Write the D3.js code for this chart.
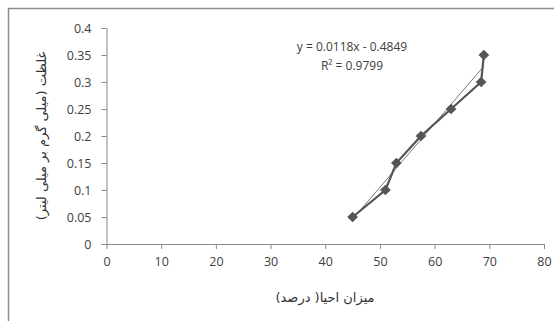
<!DOCTYPE html>
<html><head><meta charset="utf-8">
<script src="https://cdn.jsdelivr.net/npm/d3@7"></script>
<style>body{margin:0;background:#fff;}svg{display:block;}</style>
</head><body>
<script>
const xValues = [45, 51, 53, 57.5, 63, 68.5, 69];
const yValues = [0.05, 0.1, 0.15, 0.2, 0.25, 0.3, 0.35];
const xTicks = [0, 10, 20, 30, 40, 50, 60, 70, 80];
const yTicks = [0, 0.05, 0.1, 0.15, 0.2, 0.25, 0.3, 0.35, 0.4];
const trendSlope = 0.0118, trendIntercept = -0.4849;
const equationText = "y = 0.0118x - 0.4849";
const r2Text = "R² = 0.9799";
const xTitle = "میزان احیا( درصد)";
const yTitle = "غلظت (میلی گرم بر میلی لیتر)";

const W = 554, H = 321;
const svg = d3.select("body").append("svg").attr("width", W).attr("height", H);
svg.append("rect").attr("x", 8.5).attr("y", 8.5).attr("width", 700).attr("height", 500)
  .attr("fill", "none").attr("stroke", "#8c8c8c").attr("stroke-width", 1.5);

const x = d3.scaleLinear().domain([0, 80]).range([106.5, 544]);
const y = d3.scaleLinear().domain([0, 0.4]).range([244, 28]);
const font = "'Open Sans', 'Liberation Sans', sans-serif";
const axisColor = "#8a8a8a";

const gx = svg.append("g").attr("transform", `translate(0,${y(0)})`)
  .call(d3.axisBottom(x).tickValues(xTicks).tickSize(5).tickSizeOuter(0).tickPadding(8).tickFormat(d3.format("d")));
const gy = svg.append("g").attr("transform", `translate(${x(0)},0)`)
  .call(d3.axisLeft(y).tickValues(yTicks).tickSize(5).tickSizeOuter(0).tickPadding(10).tickFormat(d => d === 0 ? "0" : String(+d.toFixed(2))));
[gx, gy].forEach(g => {
  g.selectAll("path,line").attr("stroke", axisColor);
  g.selectAll("text").attr("fill", "#404040").style("font-family", font).style("font-size", "12.5px");
});

// trendline
const tx = [d3.min(xValues), d3.max(xValues)];
svg.append("line")
  .attr("x1", x(tx[0])).attr("y1", y(trendSlope * tx[0] + trendIntercept))
  .attr("x2", x(tx[1])).attr("y2", y(trendSlope * tx[1] + trendIntercept))
  .attr("stroke", "#7a7a7a").attr("stroke-width", 1);

const pts = xValues.map((v, i) => [v, yValues[i]]);
svg.append("path").datum(pts)
  .attr("d", d3.line().x(d => x(d[0])).y(d => y(d[1])))
  .attr("fill", "none").attr("stroke", "#555").attr("stroke-width", 2.2);

svg.append("g").selectAll("path").data(pts).join("path")
  .attr("transform", d => `translate(${x(d[0])},${y(d[1])}) rotate(45)`)
  .attr("d", "M-3.8,-3.8H3.8V3.8H-3.8Z")
  .attr("fill", "#555");

svg.append("text").attr("x", 352).attr("y", 51).attr("text-anchor", "middle")
  .style("font-family", font).style("font-size", "12px").attr("fill", "#404040").text(equationText);
svg.append("text").attr("x", 352).attr("y", 70).attr("text-anchor", "middle")
  .style("font-family", font).style("font-size", "12px").attr("fill", "#404040").text(r2Text);

svg.append("text").attr("x", 325).attr("y", 302).attr("text-anchor", "middle")
  .attr("direction", "rtl")
  .style("font-family", "'DejaVu Sans', sans-serif").style("font-size", "13px").attr("fill", "#333").text(xTitle);
svg.append("text").attr("transform", "translate(46,136) rotate(-90)").attr("text-anchor", "middle")
  .attr("direction", "rtl")
  .style("font-family", "'DejaVu Sans', sans-serif").style("font-size", "13px").attr("fill", "#333").text(yTitle);
</script>
</body></html>
